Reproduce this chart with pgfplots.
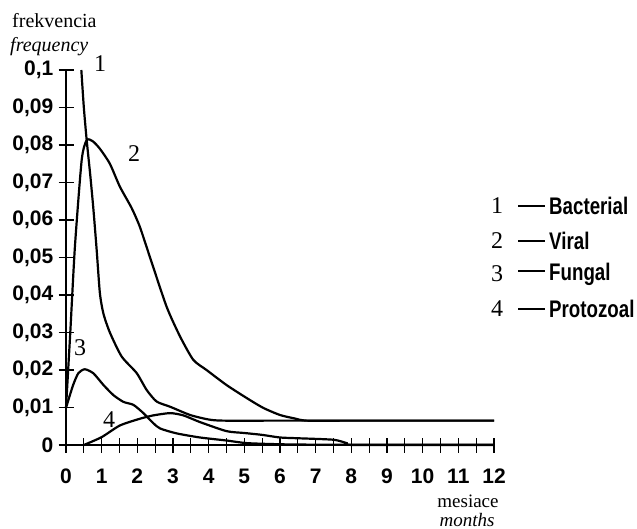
\documentclass[border=0pt]{standalone}
\usepackage{fontspec}
\setmainfont{Liberation Serif}
\newfontfamily\arialf{Liberation Sans}
\newfontfamily\arialn{Liberation Sans}[FakeStretch=0.78]
\newcommand\tl[1]{{\arialf\bfseries\fontsize{21}{21}\selectfont #1}}
\usepackage{pgfplots}
\pgfplotsset{compat=1.18}
\begin{document}
\begin{tikzpicture}
\useasboundingbox (0,0) rectangle (637pt,-529pt);
\begin{axis}[
  at={(66pt,-445pt)}, anchor=south west,
  scale only axis, width=428pt, height=375pt,
  xmin=0, xmax=12, ymin=0, ymax=0.1,
  axis x line*=bottom, axis y line*=left,
  axis line style={-, line width=1.4pt},
  every tick/.style={black, line width=1.2pt},
  tick align=center,
  major tick length=15pt, minor tick length=15pt,
  xtick={0,1,...,12}, minor x tick num=1,
  xticklabels={\tl{0},\tl{1},\tl{2},\tl{3},\tl{4},\tl{5},\tl{6},\tl{7},\tl{8},\tl{9},\tl{10},\tl{11},\tl{12}},
  ytick={0,0.01,0.02,0.03,0.04,0.05,0.06,0.07,0.08,0.09,0.1},
  yticklabels={\tl{0},\tl{0,01},\tl{0,02},\tl{0,03},\tl{0,04},\tl{0,05},\tl{0,06},\tl{0,07},\tl{0,08},\tl{0,09},\tl{0,1}},
  ticklabel style={inner sep=0pt},
  xticklabel style={anchor=north, text height=15pt, text depth=0pt, yshift=-16pt},
  yticklabel style={anchor=east, xshift=-5pt},
  clip=false,
]
% 1 Bacterial
\addplot[black, line width=2.2pt, smooth, tension=0.4] coordinates {
(0.43,0.1) (0.5,0.09) (0.58,0.0813) (0.68,0.072) (0.77,0.0627) (0.86,0.052) (0.95,0.0405) (1.05,0.035) (1.23,0.030) (1.56,0.0236) (1.98,0.0192) (2.26,0.0147) (2.54,0.0116) (2.92,0.0102) (3.48,0.008) (4.0,0.0068) (4.41,0.0065) (6,0.0065) (8,0.0065) (10,0.0065) (12,0.0065)
};
% 2 Viral
\addplot[black, line width=2.2pt, smooth, tension=0.4] coordinates {
(0,0.0099) (0.12,0.03) (0.25,0.0529) (0.44,0.076) (0.58,0.0813) (0.75,0.081) (0.95,0.079) (1.23,0.075) (1.51,0.0689) (1.84,0.0632) (2.07,0.0582) (2.35,0.0502) (2.82,0.0369) (3.2,0.0289) (3.57,0.0227) (3.94,0.02) (4.5,0.016) (5.07,0.0125) (5.53,0.0099) (6,0.008) (6.4,0.0071) (6.75,0.0065) (8,0.0065) (12,0.0065)
};
% 3 Fungal
\addplot[black, line width=2.2pt, smooth, tension=0.4] coordinates {
(0,0.0099) (0.2,0.016) (0.35,0.0192) (0.53,0.0202) (0.77,0.0191) (1.05,0.016) (1.33,0.0133) (1.61,0.0115) (1.89,0.0107) (2.17,0.0085) (2.45,0.0058) (2.64,0.0044) (3.1,0.0031) (3.76,0.002) (4.5,0.0012) (5.07,0.0005) (6,0.0002) (7,0.0001) (12,0.0001)
};
% 4 Protozoal
\addplot[black, line width=2.2pt, smooth, tension=0.4] coordinates {
(0.5,0) (1,0.0021) (1.51,0.0052) (2.07,0.007) (2.45,0.0079) (2.92,0.0085) (3.29,0.0079) (3.76,0.0061) (4.5,0.0037) (5.0,0.0032) (5.5,0.0027) (6,0.002) (6.5,0.0018) (7.5,0.0014) (7.87,0.0005) (8.1,0) (12,0)
};
\end{axis}
% axis titles
\node[anchor=base west, inner sep=0pt, font=\fontsize{20}{20}\selectfont] at (12pt,-28pt) {frekvencia};
\node[anchor=base west, inner sep=0pt, font=\itshape\fontsize{20}{20}\selectfont] at (10pt,-52pt) {frequency};
\node[anchor=base, inner sep=0pt, font=\fontsize{19}{19}\selectfont] at (468pt,-507pt) {mesiace};
\node[anchor=base, inner sep=0pt, font=\itshape\fontsize{19}{19}\selectfont] at (467pt,-526pt) {months};
% curve numbers
\node[font=\fontsize{24}{24}\selectfont, inner sep=0pt] at (100pt,-64pt) {1};
\node[font=\fontsize{24}{24}\selectfont, inner sep=0pt] at (134pt,-154pt) {2};
\node[font=\fontsize{24}{24}\selectfont, inner sep=0pt] at (80pt,-348pt) {3};
\node[font=\fontsize{24}{24}\selectfont, inner sep=0pt] at (109pt,-420pt) {4};
% legend
\foreach \n/\t/\yy in {1/Bacterial/206, 2/Viral/241, 3/Fungal/274, 4/Protozoal/309} {
  \node[font=\fontsize{24}{24}\selectfont, inner sep=0pt] at (497pt,-\yy pt) {\n};
  \node[anchor=west, inner sep=0pt, font=\arialn\bfseries\fontsize{24}{24}\selectfont] at (518pt,-\yy pt) {\rule[0.33em]{27pt}{2pt}\hspace{4pt}\t};
}
\end{tikzpicture}
\end{document}
